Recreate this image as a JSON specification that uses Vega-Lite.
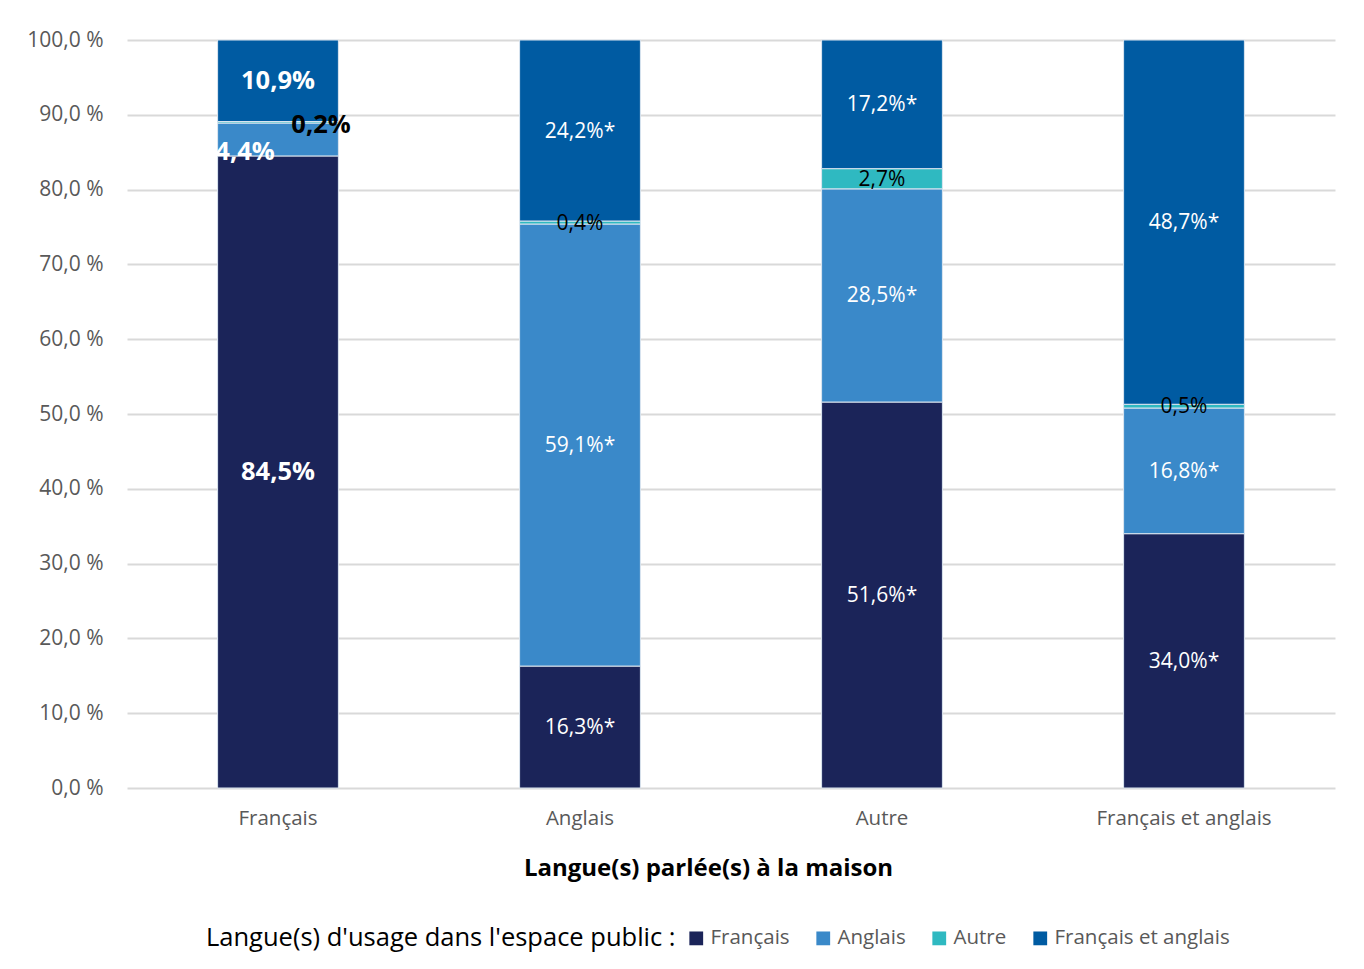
{
  "$schema": "https://vega.github.io/schema/vega-lite/v6.json",
  "width": 1208,
  "height": 748,
  "autosize": "none",
  "padding": {"left": 127, "top": 40, "right": 29, "bottom": 181},
  "background": "white",
  "config": {
    "font": "Open Sans",
    "view": {"stroke": null}
  },
  "data": {
    "values": [
      {"speak": "Français", "usage": "Français", "value": 84.5, "label": "84,5%"},
      {"speak": "Français", "usage": "Anglais", "value": 4.4, "label": "4,4%"},
      {"speak": "Français", "usage": "Autre", "value": 0.2, "label": "0,2%"},
      {"speak": "Français", "usage": "Français et anglais", "value": 10.9, "label": "10,9%"},
      {"speak": "Anglais", "usage": "Français", "value": 16.3, "label": "16,3%*"},
      {"speak": "Anglais", "usage": "Anglais", "value": 59.1, "label": "59,1%*"},
      {"speak": "Anglais", "usage": "Autre", "value": 0.4, "label": "0,4%"},
      {"speak": "Anglais", "usage": "Français et anglais", "value": 24.2, "label": "24,2%*"},
      {"speak": "Autre", "usage": "Français", "value": 51.6, "label": "51,6%*"},
      {"speak": "Autre", "usage": "Anglais", "value": 28.5, "label": "28,5%*"},
      {"speak": "Autre", "usage": "Autre", "value": 2.7, "label": "2,7%"},
      {"speak": "Autre", "usage": "Français et anglais", "value": 17.2, "label": "17,2%*"},
      {"speak": "Français et anglais", "usage": "Français", "value": 34.0, "label": "34,0%*"},
      {"speak": "Français et anglais", "usage": "Anglais", "value": 16.8, "label": "16,8%*"},
      {"speak": "Français et anglais", "usage": "Autre", "value": 0.5, "label": "0,5%"},
      {"speak": "Français et anglais", "usage": "Français et anglais", "value": 48.7, "label": "48,7%*"}
    ]
  },
  "transform": [
    {"calculate": "indexof(['Français','Anglais','Autre','Français et anglais'], datum.usage)", "as": "k"},
    {"stack": "value", "groupby": ["speak"], "sort": [{"field": "k", "order": "ascending"}], "as": ["y0", "y1"]},
    {"calculate": "(datum.y0 + datum.y1) / 2", "as": "ymid"}
  ],
  "encoding": {
    "x": {
      "field": "speak",
      "type": "nominal",
      "sort": ["Français", "Anglais", "Autre", "Français et anglais"],
      "scale": {"paddingInner": 0.6, "paddingOuter": 0.3},
      "axis": {
        "title": "Langue(s) parlée(s) à la maison",
        "titleFontSize": 24,
        "titleFontWeight": "bold",
        "titleColor": "black",
        "titlePadding": 28,
        "titleX": 581,
        "labelAngle": 0,
        "labelFontSize": 20.5,
        "labelColor": "#595959",
        "labelPadding": 20,
        "domain": false,
        "ticks": false
      }
    }
  },
  "layer": [
    {
      "mark": {"type": "bar", "stroke": "#dce6f0", "strokeWidth": 1},
      "encoding": {
        "y": {
          "field": "y0",
          "type": "quantitative",
          "scale": {"domain": [0, 100]},
          "axis": {
            "title": null,
            "values": [0, 10, 20, 30, 40, 50, 60, 70, 80, 90, 100],
            "labelExpr": "replace(format(datum.value, '.1f'), '.', ',') + ' %'",
            "labelFontSize": 21,
            "labelColor": "#595959",
            "labelPadding": 24,
            "gridColor": "#d9d9d9",
            "gridWidth": 2,
            "domain": false,
            "ticks": false
          }
        },
        "y2": {"field": "y1"},
        "color": {
          "field": "usage",
          "type": "nominal",
          "sort": ["Français", "Anglais", "Autre", "Français et anglais"],
          "scale": {
            "domain": ["Français", "Anglais", "Autre", "Français et anglais"],
            "range": ["#1b2459", "#3a89c9", "#2fb9c1", "#005ba2"]
          },
          "legend": {
            "title": "Langue(s) d'usage dans l'espace public :",
            "orient": "none",
            "legendX": 79,
            "legendY": 888,
            "direction": "horizontal",
            "titleOrient": "left",
            "titleFontSize": 25.5,
            "titleFontWeight": "normal",
            "titleColor": "black",
            "titlePadding": 10,
            "titleLimit": 800,
            "labelLimit": 400,
            "labelFontSize": 20.5,
            "labelColor": "#595959",
            "symbolType": "square",
            "symbolSize": 190,
            "symbolStrokeWidth": 0,
            "columnPadding": 23,
            "labelOffset": 4
          }
        }
      }
    },
    {
      "transform": [{"filter": "datum.speak === 'Français' && (datum.usage === 'Français' || datum.usage === 'Français et anglais')"}],
      "mark": {"type": "text", "fontSize": 25.5, "fontWeight": "bold", "color": "white", "baseline": "middle"},
      "encoding": {
        "y": {"field": "ymid", "type": "quantitative"},
        "text": {"field": "label"}
      }
    },
    {
      "transform": [{"filter": "datum.speak === 'Français' && datum.usage === 'Anglais'"}],
      "mark": {"type": "text", "fontSize": 25.5, "fontWeight": "bold", "color": "white", "baseline": "middle", "dx": -33, "dy": 13},
      "encoding": {
        "y": {"field": "ymid", "type": "quantitative"},
        "text": {"field": "label"}
      }
    },
    {
      "transform": [{"filter": "datum.speak === 'Français' && datum.usage === 'Autre'"}],
      "mark": {"type": "text", "fontSize": 25.5, "fontWeight": "bold", "color": "black", "baseline": "middle", "dx": 43, "dy": 3},
      "encoding": {
        "y": {"field": "ymid", "type": "quantitative"},
        "text": {"field": "label"}
      }
    },
    {
      "transform": [{"filter": "datum.speak !== 'Français'"}],
      "mark": {"type": "text", "fontSize": 21, "baseline": "middle", "dy": 1},
      "encoding": {
        "y": {"field": "ymid", "type": "quantitative"},
        "text": {"field": "label"},
        "color": {"condition": {"test": "datum.usage === 'Autre'", "value": "black"}, "value": "white"}
      }
    }
  ]
}
